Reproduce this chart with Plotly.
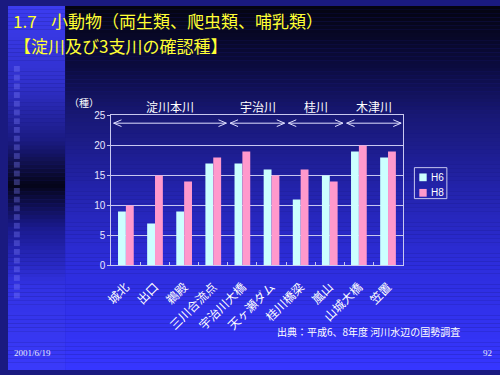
import numpy as np
import plotly.graph_objects as go

# ---- data ----
sites = ["城北", "出口", "鵜殿", "三川合流点", "宇治川大橋", "天ヶ瀬ダム", "桂川橋梁", "嵐山", "山城大橋", "笠置"]
h6 = [9, 7, 9, 17, 17, 16, 11, 15, 19, 18]
h8 = [10, 15, 14, 18, 19, 15, 16, 14, 20, 19]
series_names = ["H6", "H8"]
series_colors = ["#ccffff", "#ff99cc"]
groups = ["淀川本川", "宇治川", "桂川", "木津川"]
group_spans = [(0, 3), (4, 5), (6, 7), (8, 9)]
y_ticks = [0, 5, 10, 15, 20, 25]

W, H = 500, 375
def px(x):
    return x / W
def py(y):
    return 1 - y / H

JP = "Noto Sans CJK JP"
LIGHT = "#c8c8f0"
YELLOW = "#ffff33"

fig = go.Figure()
for name, vals, col in zip(series_names, [h6, h8], series_colors):
    fig.add_trace(go.Bar(x=sites, y=vals, name=name, marker=dict(color=col, line=dict(width=0))))

shapes = []

def interp_color(stops, y):
    ys = [s[0] for s in stops]
    cs = np.array([[int(s[1][i:i + 2], 16) for i in (1, 3, 5)] for s in stops], float)
    r = [np.interp(y, ys, cs[:, k]) for k in range(3)]
    return "rgb(%d,%d,%d)" % tuple(int(round(v)) for v in r)

main_stops = [(0, "#040410"), (60, "#0b0b3c"), (113, "#181874"), (190, "#2323ac"),
              (268, "#2d2ddc"), (375, "#3636ff")]
strip_stops = [(0, "#3c3cf0"), (80, "#3030cc"), (140, "#1a1a80"), (185, "#050518"),
               (230, "#1a1a90"), (290, "#3232e4"), (375, "#3a3afa")]
step = 4
for y0 in range(0, H, step):
    yc = y0 + step / 2
    shapes.append(dict(type="rect", xref="paper", yref="paper", layer="below",
                       x0=px(58), x1=1, y0=py(y0 + step), y1=py(y0),
                       fillcolor=interp_color(main_stops, yc), line=dict(width=0)))
    shapes.append(dict(type="rect", xref="paper", yref="paper", layer="below",
                       x0=0, x1=px(58), y0=py(y0 + step), y1=py(y0),
                       fillcolor=interp_color(strip_stops, yc), line=dict(width=0)))
# decorative squares on the left strip
for ys in np.arange(62, 305, 9):
    shapes.append(dict(type="rect", xref="paper", yref="paper", layer="below",
                       x0=px(6), x1=px(12), y0=py(ys + 6), y1=py(ys),
                       fillcolor="rgba(130,130,255,0.35)", line=dict(width=0)))

# group arrows (double-headed, open heads)
ay = 23.7
hx, hy = 0.27, 0.56
arrow_col = "#e0e0ff"
for (a, b) in group_spans:
    xa, xb = a - 0.42, b + 0.45
    segs = [(xa, ay, xb, ay),
            (xa, ay, xa + hx, ay + hy), (xa, ay, xa + hx, ay - hy),
            (xb, ay, xb - hx, ay + hy), (xb, ay, xb - hx, ay - hy)]
    for (x0, y0, x1, y1) in segs:
        shapes.append(dict(type="line", xref="x", yref="y", x0=x0, y0=y0, x1=x1, y1=y1,
                           line=dict(color=arrow_col, width=1)))

annotations = []
for g, (a, b) in zip(groups, group_spans):
    annotations.append(dict(text=g, xref="x", yref="paper", x=(a + b) / 2 + 0.02, y=py(104),
                            showarrow=False, font=dict(family=JP, size=12, color="white"),
                            xanchor="center", yanchor="middle"))

# legend (drawn to match the small boxed legend of the original)
shapes.append(dict(type="rect", xref="paper", yref="paper", x0=px(413), x1=px(446),
                   y0=py(199), y1=py(167), line=dict(color=LIGHT, width=1), fillcolor="rgba(0,0,0,0)"))
for i, (name, col) in enumerate(zip(series_names, series_colors)):
    yc = 177 + 16 * i
    shapes.append(dict(type="rect", xref="paper", yref="paper", x0=px(418), x1=px(425.5),
                       y0=py(yc + 4), y1=py(yc - 4), line=dict(width=0), fillcolor=col))
    annotations.append(dict(text=name, xref="paper", yref="paper", x=px(427.5), y=py(yc),
                            xanchor="left", yanchor="middle", showarrow=False,
                            font=dict(family="Liberation Sans", size=10, color="white")))

annotations += [
    dict(text="1.7", xref="paper", yref="paper", x=px(3), y=py(14.5),
         xanchor="left", yanchor="middle", showarrow=False,
         font=dict(family=JP, size=17, color=YELLOW)),
    dict(text="小動物（両生類、爬虫類、哺乳類）", xref="paper", yref="paper", x=px(42), y=py(14.5),
         xanchor="left", yanchor="middle", showarrow=False,
         font=dict(family=JP, size=17, color=YELLOW)),
    dict(text="【淀川及び3支川の確認種】", xref="paper", yref="paper", x=px(4), y=py(40.5),
         xanchor="left", yanchor="middle", showarrow=False,
         font=dict(family=JP, size=17, color=YELLOW)),
    dict(text="（種）", xref="paper", yref="paper", x=px(77), y=py(100),
         xanchor="center", yanchor="middle", showarrow=False,
         font=dict(family=JP, size=10, color="white")),
    dict(text="出典：平成6、8年度 河川水辺の国勢調査", xref="paper", yref="paper", x=px(461), y=py(336),
         xanchor="right", yanchor="middle", showarrow=False,
         font=dict(family=JP, size=10, color="white")),
    dict(text="2001/6/19", xref="paper", yref="paper", x=px(4), y=py(358),
         xanchor="left", yanchor="middle", showarrow=False,
         font=dict(family="Liberation Serif", size=9, color="#e8e8ff")),
    dict(text="92", xref="paper", yref="paper", x=px(494), y=py(358),
         xanchor="right", yanchor="middle", showarrow=False,
         font=dict(family="Liberation Serif", size=9, color="#e8e8ff")),
]

fig.update_layout(
    width=W, height=H,
    margin=dict(l=0, r=0, t=0, b=0),
    paper_bgcolor="#1a1a80",
    plot_bgcolor="rgba(0,0,0,0)",
    barmode="group", bargap=0.46, bargroupgap=0,
    shapes=shapes, annotations=annotations,
    showlegend=False,
    xaxis=dict(domain=[px(105), px(401)], type="category", range=[-0.5, 9.5],
               tickangle=-45, tickfont=dict(family=JP, size=12, color="white"),
               ticks="inside", tickson="boundaries", ticklen=3, tickcolor=LIGHT,
               ticklabelstandoff=9,
               showline=True, linecolor=LIGHT, linewidth=1, mirror=True, showgrid=False),
    yaxis=dict(domain=[py(268), py(113)], range=[0, 25], tickvals=y_ticks,
               tickfont=dict(family="Liberation Sans", size=10, color="#e8e8ff"),
               showgrid=True, gridcolor=LIGHT, gridwidth=1,
               showline=True, linecolor=LIGHT, linewidth=1, mirror=True,
               ticks="outside", ticklen=3, tickcolor=LIGHT, zeroline=False),
    font=dict(family=JP, color="white"),
)

fig.write_html("out.html", config={"displayModeBar": False},
               post_script="document.body.style.margin='0';document.body.style.overflow='hidden';")
